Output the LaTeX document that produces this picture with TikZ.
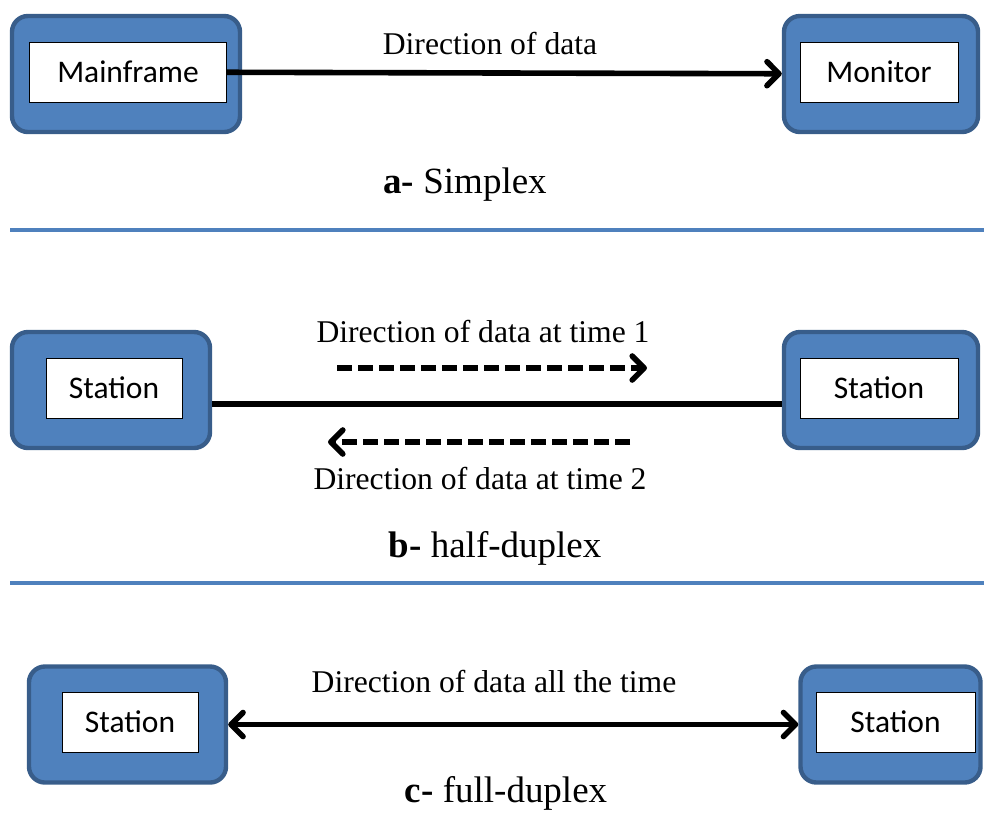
\documentclass[tikz,border=0pt]{standalone}
\usepackage{fontspec}
\setmainfont{Liberation Serif}
\newfontfamily\calibri{Carlito}
\usetikzlibrary{arrows.meta}
\definecolor{boxblue}{HTML}{4F81BD}
\definecolor{boxedge}{HTML}{385D8A}
\begin{document}
\begin{tikzpicture}[x=0.025cm,y=-0.025cm]
    \tikzstyle{ob} = [draw=boxedge,fill=boxblue,line width=0.11cm,rounded corners=0.4cm,minimum height=2.9cm] %outer box
    \tikzstyle{ib} = [draw=black,fill=white,thin,minimum height=1.5cm,font=\calibri\fontsize{22.4}{26}\selectfont] %inner box
    \tikzstyle{lb} = [font=\fontsize{22.5}{27}\selectfont] %label
    \tikzstyle{cp} = [font=\fontsize{26.3}{31}\selectfont] %caption
    \tikzstyle{da} = [line width=0.14cm,-{Straight Barb[length=0.3cm,width=0.6cm,round]}] %data arrow
    \tikzstyle{dd} = [da,dash pattern=on 0.375cm off 0.15cm] %dashed data arrow
    \tikzstyle{sep} = [draw=boxblue,line width=0.08cm] %separator
    \useasboundingbox (0,0) rectangle (984,812);
    % a- simplex
    \node[ob,minimum width=5.7cm](mfo)at(126,74){};
    \node[ib,minimum width=4.925cm](mf)at(128,72){Mainframe};
    \node[ob,minimum width=4.85cm](mono)at(881,74){};
    \node[ib,minimum width=3.95cm](mon)at(879,72){Monitor};
    \draw[da](mf)--(mono);
    \node[lb](la)at(490,44){Direction of data};
    \node[cp](ca)at(465,185){\textbf{a-} Simplex};
    \draw[sep](10,230)--(984,230);
    % b- half-duplex
    \node[ob,minimum width=4.95cm](sb1o)at(111,390){};
    \node[ib,minimum width=3.4cm](sb1)at(114,388){Station};
    \node[ob,minimum width=4.85cm](sb2o)at(881,390){};
    \node[ib,minimum width=3.95cm](sb2)at(879,388){Station};
    \draw[line width=0.14cm]([yshift=-0.35cm]sb1o.east)--([yshift=-0.35cm]sb2o.west);
    \coordinate(t1s)at(337,368);
    \coordinate(t1e)at(647,368);
    \coordinate(t2s)at(630,442);
    \coordinate(t2e)at(328,442);
    \draw[dd](t1s)--(t1e);
    \draw[dd](t2s)--(t2e);
    \node[lb](lb1)at(483,332){Direction of data at time 1};
    \node[lb](lb2)at(480,478){Direction of data at time 2};
    \node[cp](cb)at(495,548){\textbf{b-} half-duplex};
    \draw[sep](10,583)--(984,583);
    % c- full-duplex
    \node[ob,minimum width=4.925cm](sc1o)at(127.5,724.5){};
    \node[ib,minimum width=3.4cm](sc1)at(130,722){Station};
    \node[ob,minimum width=4.5cm](sc2o)at(890.5,724.5){};
    \node[ib,minimum width=3.975cm](sc2)at(895.5,722){Station};
    \draw[da,{Straight Barb[length=0.3cm,width=0.6cm,round]}-{Straight Barb[length=0.3cm,width=0.6cm,round]}](sc1o)--(sc2o);
    \node[lb](lc)at(494,681){Direction of data all the time};
    \node[cp](cc)at(506,793){\textbf{c-} full-duplex};
\end{tikzpicture}
\end{document}
